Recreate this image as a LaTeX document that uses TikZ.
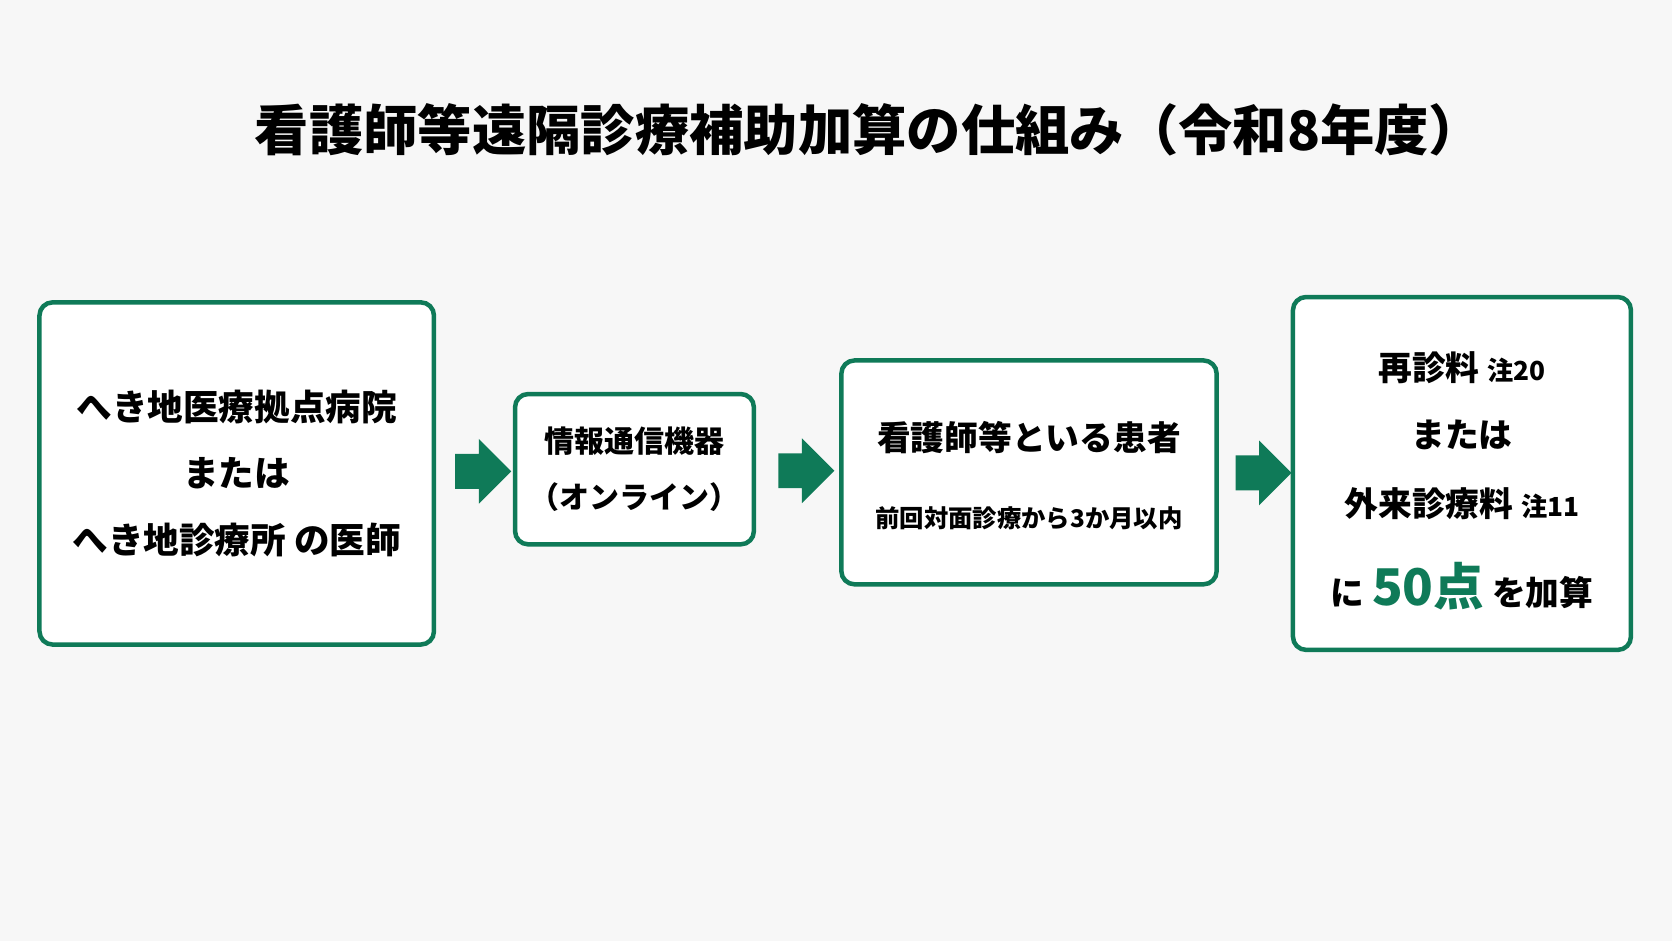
\documentclass[tikz,border=0pt]{standalone}
\usepackage{fontspec}
\setmainfont{Noto Sans CJK JP}
\usetikzlibrary{calc,positioning,shapes.arrows}
\definecolor{kgreen}{HTML}{0F7A58}
\tikzset{
  box/.style   = {draw=kgreen, line width=2.4pt, rounded corners=7pt, fill=white, align=center, inner sep=0pt},
  bigbox/.style  = {box, minimum width=7.4cm, minimum height=6.42cm},
  midbox/.style  = {box, minimum width=7.04cm, minimum height=4.2cm},
  smallbox/.style= {box, minimum width=4.48cm, minimum height=2.82cm},
  flowarrow/.style  = {single arrow, fill=kgreen, minimum height=1.05cm,
                  single arrow head extend=0.28cm, single arrow tip angle=90, inner sep=0pt},
  note/.style  = {font=\fontsize{14}{14}\selectfont},
}
\begin{document}
\begin{tikzpicture}[x=0.02cm, y=-0.02cm]
  \fill[white!97!black] (0,0) rectangle (1568,882);
  \node[font=\fontsize{29}{32}\selectfont\bfseries] (title) at (815,122) {看護師等遠隔診療補助加算の仕組み（令和8年度）};
  \node[bigbox, font=\fontsize{19}{31}\selectfont\bfseries] (doc) at (222,444)
    {へき地医療拠点病院\\[0.15cm]または\\[0.15cm]へき地診療所 の医師};
  \node[smallbox, font=\fontsize{16}{30}\selectfont\bfseries] (dev) at (595,440)
    {情報通信機器\\（オンライン）};
  \node[midbox, minimum width=7.04cm] (pat) at (965,443) {};
  \node[font=\fontsize{18}{20}\selectfont\bfseries] (patt) at (965,410) {看護師等といる患者};
  \node[note, font=\fontsize{13}{14}\selectfont\bfseries] (pats) at (965,486) {前回対面診療から3か月以内};
  \node[box, minimum width=6.34cm, minimum height=6.62cm] (fee) at (1371,444) {};
  \node[font=\fontsize{18}{20}\selectfont\bfseries] (fee1) at (1371,345) {再診料 {\fontsize{14}{14}\selectfont 注20}};
  \node[font=\fontsize{18}{20}\selectfont\bfseries] (fee2) at (1371,408) {または};
  \node[font=\fontsize{18}{20}\selectfont\bfseries] (fee3) at (1371,472) {外来診療料 {\fontsize{14}{14}\selectfont 注11}};
  \node[font=\fontsize{18}{20}\selectfont\bfseries] (fee4) at (1371,550)
    {に {\color{kgreen}\fontsize{27}{28}\selectfont 50点} を加算};
  \node[flowarrow] (a1) at ($(doc.east)!0.5!(dev.west)$) {\rule{0pt}{0.64cm}};
  \node[flowarrow] (a2) at ($(dev.east)!0.5!(pat.west)$) {\rule{0pt}{0.64cm}};
  \node[flowarrow] (a3) at ($(pat.east)!0.5!(fee.west)$) {\rule{0pt}{0.64cm}};
\end{tikzpicture}
\end{document}
